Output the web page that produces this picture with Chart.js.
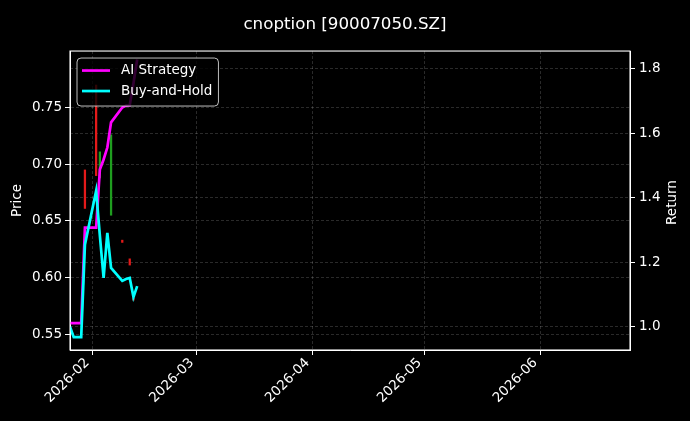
<!DOCTYPE html>
<html>
<head>
<meta charset="utf-8">
<script src="https://cdn.jsdelivr.net/npm/chart.js@4.4.0/dist/chart.umd.min.js"></script>
<style>
  html, body { margin: 0; padding: 0; background: #000; }
  canvas { display: block; background: #000; }
</style>
</head>
<body>
<canvas id="chart" width="690" height="421"></canvas>
<script>
// ---- values ----
const tradeDates = ['2026-01-26', '2026-01-27', '2026-01-28', '2026-01-29', '2026-01-30',
                    '2026-02-02', '2026-02-03', '2026-02-04', '2026-02-05', '2026-02-06',
                    '2026-02-09', '2026-02-10', '2026-02-11', '2026-02-12', '2026-02-13'];
const aiStrategy = [1.011, 1.011, 1.011, 1.011, 1.307, 1.307, 1.487, 1.518, 1.555, 1.633,
                    1.679, 1.685, 1.686, 1.754, 1.828];
const buyAndHold = [1.000, 0.968, 0.968, 0.968, 1.254, 1.421, 1.282, 1.151, 1.291, 1.182,
                    1.142, 1.148, 1.151, 1.092, 1.126];

const candleDates = ['2026-01-30', '2026-02-02', '2026-02-03', '2026-02-06', '2026-02-09', '2026-02-11', '2026-02-12'];
const candleOpen  = [0.695, 0.770, 0.688, 0.655, 0.633, 0.6165, 0.582];
const candleClose = [0.661, 0.690, 0.711, 0.726, 0.631, 0.611, 0.580];

const monthTicks = ['2026-02', '2026-03', '2026-04', '2026-05', '2026-06'];
const priceTicks = [0.55, 0.60, 0.65, 0.70, 0.75];
const returnTicks = [1.0, 1.2, 1.4, 1.6, 1.8];
const dateRange = ['2026-01-26', '2026-06-25'];
const priceRange = [0.536, 0.800];
const returnRange = [0.928, 1.854];

// days since 2026-02-01, so the x axis can stay linear
const day = s => (Date.parse(s.length === 7 ? s + '-01' : s) - Date.parse('2026-02-01')) / 864e5;

const fontFamily = "'DejaVu Sans', sans-serif";
const tickFont = { family: fontFamily, size: 13.5 };
const gridColor = 'rgba(255, 255, 255, 0.28)';
const upColor = '#1f9e1f';
const downColor = '#e41a1a';

// legend drawn inside the plot, like the matplotlib one
const legendBox = {
    id: 'legendBox',
    afterDatasetsDraw(chart) {
        const { ctx, chartArea } = chart;
        const items = chart.data.datasets.filter(d => d.type === 'line');
        ctx.save();
        ctx.font = `13.5px ${fontFamily}`;
        const x0 = chartArea.left + 7;
        const y0 = chartArea.top + 7;
        const textX = x0 + 44;
        const w = Math.max(...items.map(d => ctx.measureText(d.label).width)) + 50;
        ctx.beginPath();
        ctx.roundRect(x0, y0, w, 48, 4);
        ctx.fillStyle = 'rgba(0, 0, 0, 0.8)';
        ctx.fill();
        ctx.strokeStyle = 'rgba(210, 210, 210, 0.9)';
        ctx.lineWidth = 1;
        ctx.stroke();
        items.forEach((d, i) => {
            const cy = y0 + 12.5 + i * 20.5;
            ctx.strokeStyle = d.borderColor;
            ctx.lineWidth = d.borderWidth;
            ctx.beginPath();
            ctx.moveTo(x0 + 5, cy);
            ctx.lineTo(x0 + 33, cy);
            ctx.stroke();
            ctx.fillStyle = '#fff';
            ctx.textBaseline = 'middle';
            ctx.fillText(d.label, textX, cy);
        });
        ctx.restore();
    }
};

// frame round the plot + right axis title read bottom-to-top
const frame = {
    id: 'frame',
    afterDraw(chart) {
        const { ctx, chartArea } = chart;
        ctx.save();
        ctx.strokeStyle = '#fff';
        ctx.lineWidth = 1.1;
        ctx.strokeRect(chartArea.left, chartArea.top, chartArea.width, chartArea.height);
        ctx.translate(chart.width - 18, (chartArea.top + chartArea.bottom) / 2 + 2);
        ctx.rotate(-Math.PI / 2);
        ctx.font = `13.5px ${fontFamily}`;
        ctx.fillStyle = '#fff';
        ctx.textAlign = 'center';
        ctx.textBaseline = 'middle';
        ctx.fillText('Return', 0, 0);
        ctx.restore();
    }
};

new Chart(document.getElementById('chart'), {
    type: 'line',
    data: {
        datasets: [
            {
                type: 'line',
                label: 'AI Strategy',
                data: tradeDates.map((d, i) => ({ x: day(d), y: aiStrategy[i] })),
                yAxisID: 'y1',
                borderColor: '#ff00ff',
                borderWidth: 2.7,
                pointRadius: 0,
                tension: 0,
                order: 2
            },
            {
                type: 'line',
                label: 'Buy-and-Hold',
                data: tradeDates.map((d, i) => ({ x: day(d), y: buyAndHold[i] })),
                yAxisID: 'y1',
                borderColor: '#00ffff',
                borderWidth: 2.7,
                pointRadius: 0,
                tension: 0,
                order: 1
            },
            {
                type: 'bar',
                label: 'OHLC',
                data: candleDates.map((d, i) => ({ x: day(d), y: [candleOpen[i], candleClose[i]] })),
                yAxisID: 'y',
                backgroundColor: candleDates.map((d, i) => candleClose[i] >= candleOpen[i] ? upColor : downColor),
                borderWidth: 0,
                barThickness: 1.6,
                order: 3
            }
        ]
    },
    options: {
        responsive: false,
        animation: false,
        layout: { padding: 0 },
        plugins: {
            legend: { display: false },
            tooltip: { enabled: false },
            title: {
                display: true,
                text: 'cnoption [90007050.SZ]',
                color: '#fff',
                font: { family: fontFamily, size: 16.7, weight: 'normal' },
                padding: { top: 15, bottom: 16 }
            }
        },
        scales: {
            x: {
                type: 'linear',
                min: day(dateRange[0]),
                max: day(dateRange[1]),
                offset: false,
                afterBuildTicks: s => { s.ticks = monthTicks.map(m => ({ value: day(m) })); },
                afterFit: s => { s.height = 71; },
                ticks: {
                    callback: v => monthTicks.find(m => day(m) === v) || '',
                    color: '#fff',
                    font: tickFont,
                    minRotation: 45,
                    maxRotation: 45,
                    autoSkip: false,
                    padding: 0,
                    labelOffset: -5
                },
                grid: { offset: false, color: gridColor, lineWidth: 0.6, tickLength: 5, tickColor: '#fff', tickWidth: 1, tickBorderDash: [] },
                border: { color: '#fff', width: 1, dash: [3, 2] }
            },
            y: {
                type: 'linear',
                position: 'left',
                min: priceRange[0],
                max: priceRange[1],
                afterBuildTicks: s => { s.ticks = priceTicks.map(v => ({ value: v })); },
                afterFit: s => { s.width = 70; },
                ticks: { callback: v => v.toFixed(2), color: '#fff', font: tickFont, padding: 3 },
                grid: { color: gridColor, lineWidth: 0.6, tickLength: 5, tickColor: '#fff', tickWidth: 1, tickBorderDash: [] },
                border: { color: '#fff', width: 1, dash: [3, 2] },
                title: {
                    display: true,
                    text: 'Price',
                    color: '#fff',
                    font: { family: fontFamily, size: 13.5 },
                    padding: { top: 9, bottom: 0 }
                }
            },
            y1: {
                type: 'linear',
                position: 'right',
                min: returnRange[0],
                max: returnRange[1],
                afterBuildTicks: s => { s.ticks = returnTicks.map(v => ({ value: v })); },
                afterFit: s => { s.width = 60; },
                ticks: { callback: v => v.toFixed(1), color: '#fff', font: tickFont, padding: 4 },
                grid: { color: gridColor, lineWidth: 0.6, tickLength: 5, tickColor: '#fff', tickWidth: 1, tickBorderDash: [] },
                border: { color: '#fff', width: 1, dash: [3, 2] }
            }
        }
    },
    plugins: [legendBox, frame]
});
</script>
</body>
</html>
